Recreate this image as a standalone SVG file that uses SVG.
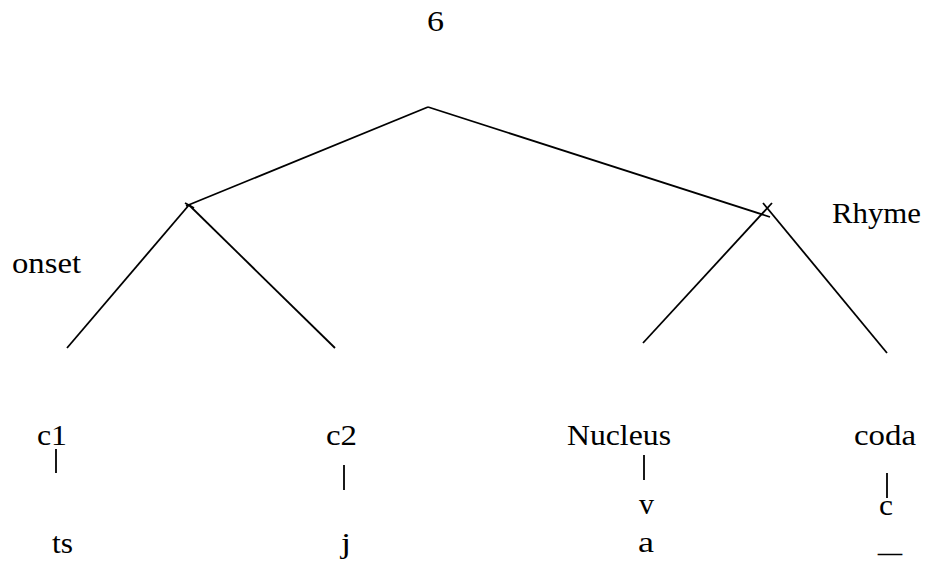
<svg xmlns="http://www.w3.org/2000/svg" width="927" height="563" viewBox="0 0 927 563">
<style>
text{font-family:"Liberation Serif","Times New Roman",serif;font-size:29px;fill:#000}
line{stroke:#000;stroke-width:1.8;stroke-linecap:butt}
</style>
<rect width="927" height="563" fill="#fff"/>
<g id="connectors">
<line x1="186" y1="206" x2="428" y2="107"/>
<line x1="428" y1="107" x2="770" y2="217"/>
<line x1="189" y1="205" x2="67" y2="348"/>
<line x1="189" y1="205" x2="335" y2="348"/>
<line x1="185" y1="203" x2="194" y2="208"/>
<line x1="772" y1="203" x2="643" y2="343"/>
<line x1="763" y1="203" x2="887" y2="353"/>
<line x1="56" y1="449" x2="56" y2="473"/>
<line x1="344" y1="465" x2="344" y2="490"/>
<line x1="644" y1="455" x2="644" y2="480"/>
<line x1="887" y1="473" x2="887" y2="498"/>
</g>
<g id="root"><text x="427" y="31" textLength="17" lengthAdjust="spacingAndGlyphs">6</text></g>
<g id="onset"><text x="12" y="273" textLength="69" lengthAdjust="spacingAndGlyphs">onset</text></g>
<g id="rhyme"><text x="832" y="223" textLength="89" lengthAdjust="spacingAndGlyphs">Rhyme</text></g>
<g id="c1"><text x="37" y="445" textLength="30" lengthAdjust="spacingAndGlyphs">c1</text></g>
<g id="c2"><text x="326" y="445" textLength="31" lengthAdjust="spacingAndGlyphs">c2</text></g>
<g id="nucleus"><text x="567" y="445" textLength="104" lengthAdjust="spacingAndGlyphs">Nucleus</text></g>
<g id="coda"><text x="854" y="445" textLength="62" lengthAdjust="spacingAndGlyphs">coda</text></g>
<g id="ts"><text x="52" y="553" textLength="21" lengthAdjust="spacingAndGlyphs">ts</text></g>
<g id="j"><text x="341" y="553" textLength="10" lengthAdjust="spacingAndGlyphs">j</text></g>
<g id="v"><text x="639" y="514" textLength="15" lengthAdjust="spacingAndGlyphs">v</text></g>
<g id="a"><text x="638" y="552" textLength="16" lengthAdjust="spacingAndGlyphs">a</text></g>
<g id="c"><text x="879" y="515" textLength="14" lengthAdjust="spacingAndGlyphs">c</text></g>
<g id="underscore"><text x="878" y="552" textLength="24" lengthAdjust="spacingAndGlyphs">_</text></g>
</svg>
